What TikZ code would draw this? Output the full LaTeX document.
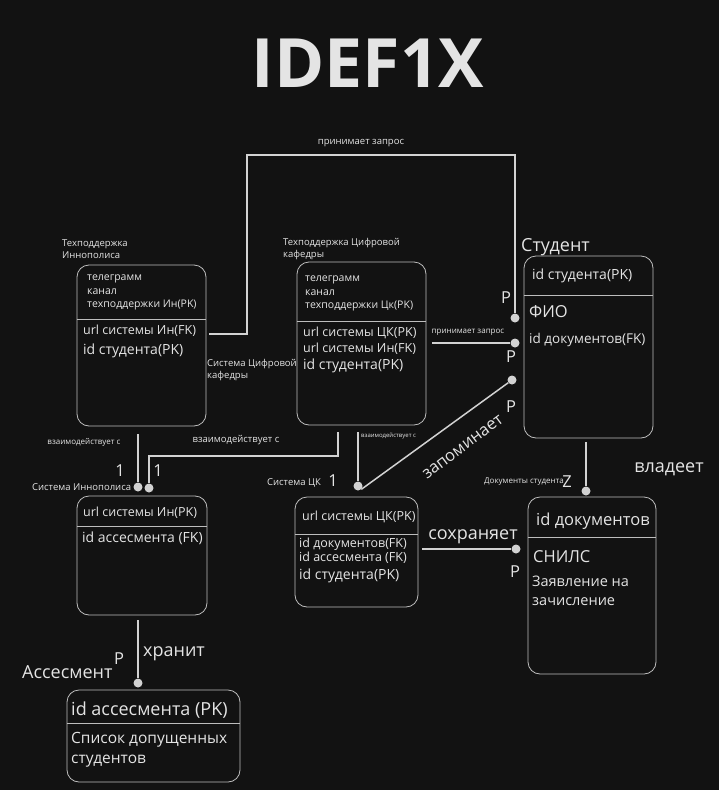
\documentclass[tikz,border=0pt]{standalone}
\usepackage{fontspec}
\setmainfont{Open Sans}
\definecolor{bg}{HTML}{121212}
\definecolor{ln}{HTML}{D2D2D2}
\definecolor{bx}{HTML}{BDBDBD}
\definecolor{tx}{HTML}{E4E4E4}

\begin{document}
\begin{tikzpicture}[x=1pt,y=-1pt,
    entity/.style={draw=bx, line width=0.8pt, rounded corners=12pt, inner sep=0pt},
    sep/.style={draw=bx, line width=0.8pt},
    link/.style={draw=ln, line width=1.5pt},
    dot/.style={circle, fill=ln, inner sep=0pt, minimum size=9pt},
    lbl/.style={text=tx, inner sep=0pt, anchor=west, align=left},
    fa/.style={font=\fontsize{6}{7}\selectfont},
    fb/.style={font=\fontsize{8}{10}\selectfont},
    fc/.style={font=\fontsize{9.5}{12}\selectfont},
    fd/.style={font=\fontsize{10.5}{13.5}\selectfont},
    fe/.style={font=\fontsize{12.5}{16}\selectfont},
    ff/.style={font=\fontsize{14}{19}\selectfont},
    fg/.style={font=\fontsize{16.5}{20}\selectfont},
    fh/.style={font=\fontsize{18}{20}\selectfont}]
    \fill[bg] (0,0) rectangle (719,790);
    \useasboundingbox (0,0) rectangle (719,790);
    \node[text=tx, font=\fontsize{68}{68}\selectfont\bfseries] (title) at (368,63) {IDEF1X};
    \node[entity, minimum width=129pt, minimum height=161pt] (tpi) at (141.5,345.5) {};
    \node[entity, minimum width=129pt, minimum height=163pt] (tpc) at (361.5,343.5) {};
    \node[entity, minimum width=129pt, minimum height=182pt] (stud) at (588.5,347) {};
    \node[entity, minimum width=130pt, minimum height=119pt] (sin) at (142,555.5) {};
    \node[entity, minimum width=123pt, minimum height=110pt] (sck) at (356.5,552) {};
    \node[entity, minimum width=128pt, minimum height=177pt] (docs) at (592,585.5) {};
    \node[entity, minimum width=173pt, minimum height=92pt] (asm) at (153.5,736) {};
    \foreach \b/\y in {tpi/319, tpc/321, stud/295, sin/526, sck/534, docs/537, asm/723}
      \draw[sep] (\b.west |- 0,\y) -- (\b.east |- 0,\y);
    \node[lbl, fc] (tpiname) at (62,249.5) {Техподдержка\\Иннополиса};
    \node[lbl, fd] (tpikey) at (87,292.5) {телеграмм\\канал\\техподдержки Ин(PK)};
    \node[lbl, fe] (tpiurl) at (83,331) {url системы Ин(FK)};
    \node[lbl, ff] (tpiid) at (83,351) {id студента(PK)};
    \node[lbl, fc] (tpcname) at (283,249.5) {Техподдержка Цифровой\\кафедры};
    \node[lbl, fd] (tpckey) at (305,293.5) {телеграмм\\канал\\техподдержки Цк(PK)};
    \node[lbl, fe] (tpcurl) at (303,341) {url системы ЦК(PK)\\url системы Ин(FK)};
    \node[lbl, ff] (tpcid) at (303,366) {id студента(PK)};
    \node[lbl, fh] (studname) at (521,247) {Студент};
    \node[lbl, ff] (studkey) at (532,276) {id студента(PK)};
    \node[lbl, fg] (studfio) at (529,312) {ФИО};
    \node[lbl, font=\fontsize{13.5}{16}\selectfont] (studdoc) at (529,340) {id документов(FK)};
    \node[lbl, fc] (sinname) at (32,487) {Система Иннополиса};
    \node[lbl, fe] (sinkey) at (83,513) {url системы Ин(PK)};
    \node[lbl, ff] (sinasm) at (82,538) {id ассесмента (FK)};
    \node[lbl, fc] (sckname) at (267,483) {Система ЦК};
    \node[lbl, fe] (sckkey) at (302,517) {url системы ЦК(PK)};
    \node[lbl, font=\fontsize{12.5}{14}\selectfont] (sckfk) at (299,550.5) {id документов(FK)\\id ассесмента (FK)};
    \node[lbl, ff] (sckid) at (299,576) {id студента(PK)};
    \node[lbl, fb] (docsname) at (484,482) {Документы студента};
    \node[lbl, fg] (docskey) at (536,521) {id документов};
    \node[lbl, fg] (docssnils) at (533,557) {СНИЛС};
    \node[lbl, font=\fontsize{14.5}{19}\selectfont] (docsapp) at (532,590.5) {Заявление на\\зачисление};
    \node[lbl, fh] (asmname) at (22,672) {Ассесмент};
    \node[lbl, fh] (asmkey) at (71,710) {id ассесмента (PK)};
    \node[lbl, font=\fontsize{15.5}{20}\selectfont] (asmlist) at (71,750) {Список допущенных\\студентов};
    \node[dot] (d1) at (515,318) {};
    \node[dot] (d2) at (515,343) {};
    \node[dot] (d3) at (512,380) {};
    \node[dot] (d4) at (138,487) {};
    \node[dot] (d5) at (149,488) {};
    \node[dot] (d6) at (358,486) {};
    \node[dot] (d7) at (586,491) {};
    \node[dot] (d8) at (516,549) {};
    \node[dot] (d9) at (138,683) {};
    \draw[link] ([xshift=3pt]tpi.east |- 0,334) -| (247,155) -| (d1);
    \draw[link] ([xshift=6pt]tpc.east |- d2) -- (d2);
    \draw[link] (d6.south east) -- (d3);
    \draw[link] ([yshift=-7pt]tpc.south -| d6) -- (d6);
    \draw[link] ([yshift=-7pt]tpc.south -| 338,0) -- (338,456) -| (d5);
    \draw[link] ([yshift=-8pt]tpi.south -| d4) -- (d4);
    \draw[link] ([yshift=-4pt]stud.south -| d7) -- (d7);
    \draw[link] ([xshift=4pt]sck.east |- d8) -- (d8);
    \draw[link] ([yshift=-5pt]sin.south -| d9) -- (d9);
    \node[text=tx, fc] (req1) at (361,143) {принимает запрос};
    \node[text=tx, fb] (req2) at (468,332) {принимает запрос};
    \node[text=tx, fg, rotate=37] (remember) at (463,447) {запоминает};
    \node[text=tx, fb] (act1) at (84,442) {взаимодействует с};
    \node[text=tx, fc] (act2) at (236,440) {взаимодействует с};
    \node[lbl, fa] (act3) at (361,436) {взаимодействует с};
    \node[lbl, fc] (tpcsys) at (207,370.5) {Система Цифровой\\кафедры};
    \node[text=tx, fh] (owns) at (669,469) {владеет};
    \node[text=tx, fh] (saves) at (473,537) {сохраняет};
    \node[text=tx, fh] (keeps) at (174,654) {хранит};
    \node[text=tx, fg] (p1) at (506,298) {P};
    \node[text=tx, fg] (p2) at (511,357) {P};
    \node[text=tx, fg] (p3) at (511,407) {P};
    \node[text=tx, fg] (p4) at (515,572) {P};
    \node[text=tx, fg] (p5) at (119,659) {P};
    \node[text=tx, fg] (z1) at (567,482) {Z};
    \node[text=tx, fg] (one1) at (120,471) {1};
    \node[text=tx, fg] (one2) at (158,471) {1};
    \node[text=tx, fg] (one3) at (333,481) {1};
  \end{tikzpicture}
\end{document}
